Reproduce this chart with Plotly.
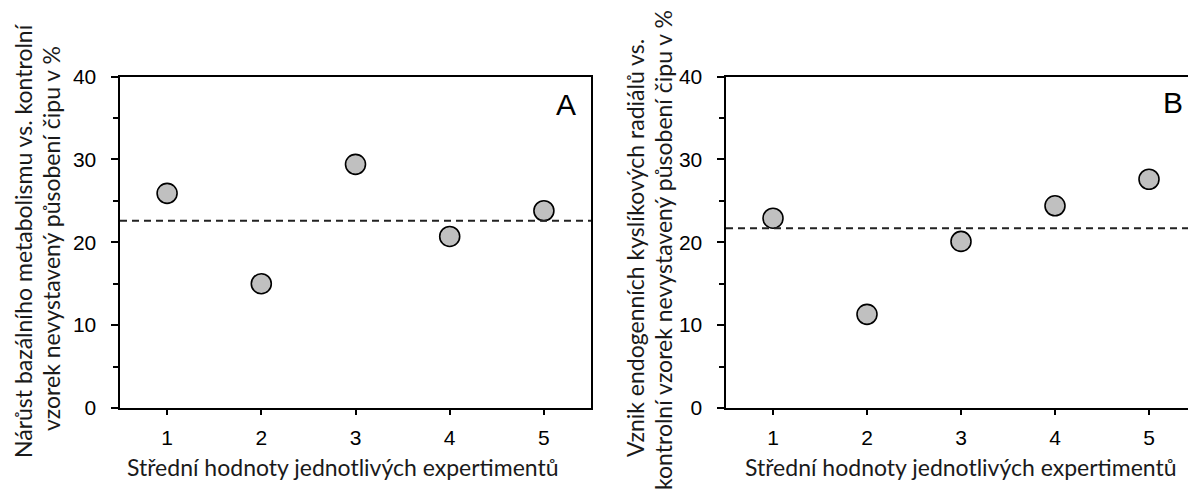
import plotly.graph_objects as go

# Data
experiments = [1, 2, 3, 4, 5]
tick_labels = ["1", "2", "3", "4", "5"]
values_a = [25.9, 15.0, 29.4, 20.7, 23.8]
values_b = [22.9, 11.3, 20.1, 24.4, 27.6]
mean_a = 22.6
mean_b = 21.7
y_ticks = [0, 10, 20, 30, 40]
y_tick_labels = ["0", "10", "20", "30", "40"]

x_title = "Střední hodnoty jednotlivých expertimentů"
y_title_a = ["Nárůst bazálního metabolismu vs. kontrolní",
             "vzorek nevystavený působení čipu v %"]
y_title_b = ["Vznik endogenních kyslíkových radiálů vs.",
             "kontrolní vzorek nevystavený působení čipu v %"]

# page body has an 8px default margin: figure sized to fill the rest of the window
OFF = 8
W, H = 1196 - OFF, 495 - OFF


def px(x):
    return (x - OFF) / W


def py(y):
    return (H - (y - OFF)) / H


marker = dict(size=20, color="#c0c0c0", line=dict(color="black", width=1.6))

fig = go.Figure()
fig.add_trace(go.Scatter(x=experiments, y=values_a, mode="markers", marker=marker,
                         xaxis="x", yaxis="y", showlegend=False))
fig.add_trace(go.Scatter(x=experiments, y=values_b, mode="markers", marker=marker,
                         xaxis="x2", yaxis="y2", showlegend=False))

ydom = [py(408), py(76.5)]
tickfont = dict(family="Liberation Sans, Arial, sans-serif", size=21, color="black")


def xax(domain, anchor):
    return dict(domain=domain, anchor=anchor, range=[0.5, 5.5], tickmode="array",
                tickvals=experiments, ticktext=tick_labels, ticks="outside", ticklen=5,
                tickwidth=2, tickcolor="black", showline=True, linecolor="black",
                linewidth=2, mirror=True, showgrid=False, zeroline=False,
                tickfont=tickfont, ticklabelstandoff=5, automargin=False)


def yax(anchor):
    return dict(domain=ydom, anchor=anchor, range=[0, 40], tickmode="array",
                tickvals=y_ticks, ticktext=[t + "\u2002" for t in y_tick_labels],
                ticks="outside", ticklen=7, tickwidth=2,
                tickcolor="black", showline=True, linecolor="black", linewidth=2,
                mirror=True, showgrid=False, zeroline=False, tickfont=tickfont,
                automargin=False,
                minor=dict(dtick=5, tick0=0, ticks="outside", ticklen=5, tickwidth=2,
                           tickcolor="black", showgrid=False))


fig.update_layout(
    width=W, height=H, margin=dict(l=0, r=0, t=0, b=0, autoexpand=False),
    paper_bgcolor="white", plot_bgcolor="white",
    xaxis=xax([px(120), px(591)], "y"),
    yaxis=yax("x"),
    xaxis2=xax([px(726), 1.0], "y2"),
    yaxis2=yax("x2"),
)

dash = dict(color="#222222", width=2, dash="7px,5px")
fig.add_shape(type="line", xref="x domain", yref="y", x0=0, x1=1, y0=mean_a, y1=mean_a, line=dash)
fig.add_shape(type="line", xref="x2 domain", yref="y2", x0=0, x1=1, y0=mean_b, y1=mean_b, line=dash)

title_font = dict(family="Lato, sans-serif", size=23, color="#1a1a1a")
annots = [
    dict(text=x_title, x=px(343), y=py(467), textangle=0),
    dict(text=x_title, x=px(961), y=py(467), textangle=0),
    dict(text=y_title_a[0], x=px(23), y=py(241), textangle=-90),
    dict(text=y_title_a[1], x=px(51), y=py(239), textangle=-90),
    dict(text=y_title_b[0], x=px(635), y=py(248), textangle=-90),
    dict(text=y_title_b[1], x=px(663), y=py(250), textangle=-90),
]
for a in annots:
    fig.add_annotation(xref="paper", yref="paper", showarrow=False, font=title_font,
                       xanchor="center", yanchor="middle", **a)

panel_font = dict(family="Liberation Sans, Arial, sans-serif", size=30, color="black")
fig.add_annotation(text="A", xref="paper", yref="paper", x=px(566), y=py(104),
                   xanchor="center", yanchor="middle", showarrow=False, font=panel_font)
fig.add_annotation(text="B", xref="paper", yref="paper", x=px(1172.5), y=py(103),
                   xanchor="center", yanchor="middle", showarrow=False, font=panel_font)

fig.write_html("out.html")
